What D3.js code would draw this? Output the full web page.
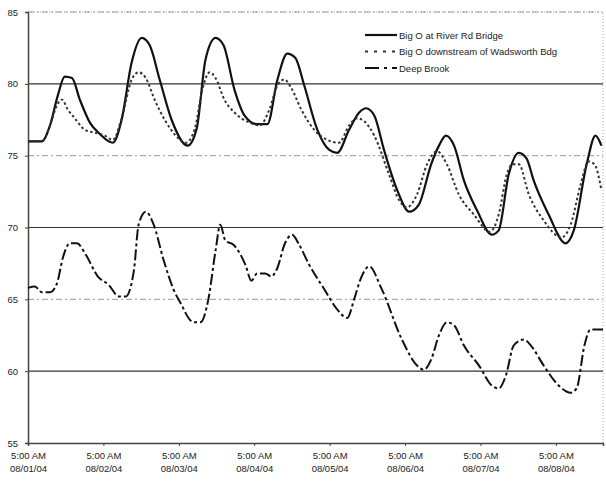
<!DOCTYPE html>
<html>
<head>
<meta charset="utf-8">
<script src="https://cdn.jsdelivr.net/npm/d3@7"></script>
<style>
  body { margin: 0; background: #fff; }
  text { font-family: "Liberation Sans", Arial, sans-serif; fill: #222; }
</style>
</head>
<body>
<div class="chart_line"></div>
<script>
// hours after 08/01/04 5:00 AM, values in deg F
var riverHours = [0, 4.4, 7, 9.5, 11.7, 14, 16.5, 19.7, 22.9, 27, 29.8, 33, 36.2, 38.7, 41.9, 45.7, 50.8, 53.7, 56.5, 59.7, 62.2, 65.7, 68.9, 72.7, 76.2, 79.4, 82.5, 85.1, 87.9, 92.1, 95.9, 98.4, 102.2, 105.4, 107.6, 110.2, 113.3, 117.5, 121.3, 124.4, 128.3, 130.8, 133, 135.6, 138.7, 142.9, 147.6, 149.8, 153, 156.2, 158.7, 160.9, 165.7, 171.1, 173.7, 177.8, 180.6, 182.5];
var riverTemp = [76.0, 76.0, 77.1, 79.2, 80.5, 80.4, 78.9, 77.3, 76.5, 75.9, 77.5, 81.5, 83.2, 82.7, 80.3, 77.5, 75.7, 76.9, 81.7, 83.2, 82.7, 79.6, 77.8, 77.2, 77.2, 80.3, 82.1, 81.8, 79.9, 76.8, 75.4, 75.2, 76.8, 78.0, 78.3, 77.8, 75.4, 72.6, 71.1, 71.6, 74.4, 75.7, 76.4, 75.7, 73.3, 71.2, 69.5, 69.8, 73.7, 75.2, 74.8, 73.3, 70.9, 68.9, 69.8, 74.4, 76.4, 75.7];

var downHours = [0, 4.4, 7, 9.2, 10.8, 12.7, 14.9, 18.1, 21.3, 24.4, 27, 29.8, 33, 35.2, 37.5, 40.3, 43.5, 47, 50.2, 53, 55.6, 57.8, 59.7, 62.5, 65.7, 70.5, 73.7, 76.8, 79.4, 81.6, 83.8, 87, 91.1, 95.2, 99, 102.2, 104.8, 107, 110.2, 114.9, 118.1, 120.6, 123.8, 127, 130.2, 133.3, 137.1, 141.9, 147, 149.8, 152.4, 154.3, 156.2, 159.4, 164.1, 169.8, 172.7, 175.9, 178.4, 180.3, 182.5];
var downTemp = [76.0, 76.0, 77.1, 78.5, 78.9, 78.2, 77.6, 76.8, 76.6, 76.4, 76.1, 77.6, 80.3, 80.8, 80.4, 78.9, 77.5, 76.4, 75.9, 76.8, 79.7, 80.8, 80.4, 78.9, 78.0, 77.3, 77.1, 78.2, 79.9, 80.3, 79.7, 78.2, 76.8, 76.1, 75.9, 77.1, 77.6, 77.4, 76.4, 73.7, 71.9, 71.4, 72.3, 74.4, 75.3, 74.4, 72.3, 70.9, 69.7, 70.9, 73.7, 74.4, 74.4, 72.3, 70.5, 69.3, 70.2, 73.0, 74.6, 74.4, 72.6];

var deepHours = [0, 2.2, 4.4, 7, 9.2, 11.1, 13.3, 15.6, 18.4, 22.2, 25.7, 28.9, 31.1, 33.7, 35.2, 37.5, 40, 43.2, 46.3, 48.9, 51.1, 52.7, 54.9, 57.4, 59.7, 61.2, 62.8, 65.4, 69.2, 71.1, 72.9, 75.5, 77.4, 79.4, 81.6, 84.1, 86.3, 89.5, 94.3, 98.4, 101.6, 103.8, 106, 108.6, 112.4, 119, 123.8, 126, 128.3, 130.8, 133.3, 135.6, 138.7, 143.5, 147.6, 149.8, 152.1, 154.6, 157.8, 160, 164.1, 168.9, 172.7, 174.6, 177.1, 179, 181.6, 183];
var deepTemp = [65.8, 65.9, 65.5, 65.5, 66.1, 67.9, 68.9, 68.9, 68.1, 66.6, 66.0, 65.2, 65.2, 67.0, 70.2, 71.1, 70.2, 67.7, 65.7, 64.6, 63.7, 63.4, 63.4, 65.0, 68.4, 70.2, 69.1, 68.8, 67.4, 66.3, 66.8, 66.8, 66.6, 67.2, 68.8, 69.5, 68.8, 67.4, 65.7, 64.3, 63.7, 65.0, 66.5, 67.3, 65.8, 62.2, 60.4, 60.1, 60.8, 62.5, 63.4, 63.2, 61.8, 60.4, 59.0, 58.8, 59.7, 61.8, 62.2, 61.8, 60.4, 59.0, 58.5, 58.8, 61.8, 62.9, 62.9, 62.9];

var seriesNames = ["Big O at River Rd Bridge", "Big O downstream of Wadsworth Bdg", "Deep Brook"];
var tickDays = ["08/01/04", "08/02/04", "08/03/04", "08/04/04", "08/05/04", "08/06/04", "08/07/04", "08/08/04"];
var yTicks = [55, 60, 65, 70, 75, 80, 85];

var start = new Date(2004, 7, 1, 5, 0);
function toDate(h) { return new Date(start.getTime() + h * 3600 * 1000); }

var margin = {top: 12, right: 3, bottom: 39, left: 28};
var width = 606 - margin.left - margin.right,
    height = 482 - margin.top - margin.bottom;

var x = d3.scaleTime().domain([start, toDate(183)]).range([0, width]);
var y = d3.scaleLinear().domain([55, 85]).range([height, 0]);

var svg = d3.select('.chart_line').append("svg")
    .attr("width", 606)
    .attr("height", 482)
  .append("g")
    .attr("transform", "translate(" + margin.left + "," + margin.top + ")");

// plot border (faint, top and right)
svg.append("path")
  .attr("d", "M0,0H" + width + "V" + height)
  .attr("fill", "none")
  .attr("stroke", "#aaa")
  .attr("stroke-dasharray", "1,2");

// gridlines
svg.selectAll(".grid").data(yTicks.filter(function(d) { return d > 55; }))
  .enter().append("line")
    .attr("x1", 0).attr("x2", width)
    .attr("y1", function(d) { return y(d); }).attr("y2", function(d) { return y(d); })
    .attr("stroke", function(d) { return d % 10 === 0 ? "#333" : "#999"; })
    .attr("stroke-width", function(d) { return d % 10 === 0 ? 1.2 : 1; })
    .attr("stroke-dasharray", function(d) { return d % 10 === 0 ? null : "6,3,2,3"; });

// Y axis
var yAxis = svg.append("g")
  .call(d3.axisLeft(y).tickValues(yTicks).tickSize(3).tickPadding(7));
yAxis.select(".domain").attr("stroke", "#444").attr("stroke-width", 1.5);
yAxis.selectAll("line").attr("stroke", "#444");
yAxis.selectAll("text").style("font-size", "9.5px").attr("fill", "#222");

// X axis
var tickDates = tickDays.map(function(d, i) { return toDate(24 * i); });
var xAxis = svg.append("g")
  .attr("transform", "translate(0," + height + ")")
  .call(d3.axisBottom(x).tickValues(tickDates).tickSize(3).tickFormat(""));
xAxis.select(".domain").attr("stroke", "#444").attr("stroke-width", 1.5);
xAxis.selectAll("line").attr("stroke", "#444");
xAxis.selectAll(".tick").each(function(d, i) {
  var t = d3.select(this).append("text")
    .attr("text-anchor", "middle")
    .style("font-size", "9.5px");
  t.append("tspan").attr("x", 0).attr("y", 16).text("5:00 AM");
  t.append("tspan").attr("x", 0).attr("y", 29).text(tickDays[i]);
});

function zip(hours, vals) {
  return hours.map(function(h, i) { return {date: toDate(h), temp: vals[i]}; });
}

var valueline = d3.line()
  .curve(d3.curveMonotoneX)
  .x(function(d) { return x(d.date); })
  .y(function(d) { return y(d.temp); });

var styles = [
  {stroke: "#111", width: 2.2, dash: null},
  {stroke: "#333", width: 2, dash: "2.5,2.5"},
  {stroke: "#111", width: 2, dash: "11,3,3,3"}
];
var data = [zip(riverHours, riverTemp), zip(downHours, downTemp), zip(deepHours, deepTemp)];

data.forEach(function(series, i) {
  svg.append("path")
    .data([series])
    .attr("fill", "none")
    .attr("stroke", styles[i].stroke)
    .attr("stroke-width", styles[i].width)
    .attr("stroke-dasharray", styles[i].dash)
    .attr("d", valueline);
});

// legend
var legend = svg.append("g").attr("transform", "translate(337,23)");
seriesNames.forEach(function(name, i) {
  var g = legend.append("g").attr("transform", "translate(0," + (i * 16.5) + ")");
  g.append("line")
    .attr("x1", 0).attr("x2", 32)
    .attr("stroke", styles[i].stroke)
    .attr("stroke-width", styles[i].width)
    .attr("stroke-dasharray", i === 2 ? "14,5,3,5" : (i === 1 ? "3,6" : null));
  g.append("text").attr("x", 34).attr("y", 3.5).style("font-size", "9.5px").text(name);
});
</script>
</body>
</html>
